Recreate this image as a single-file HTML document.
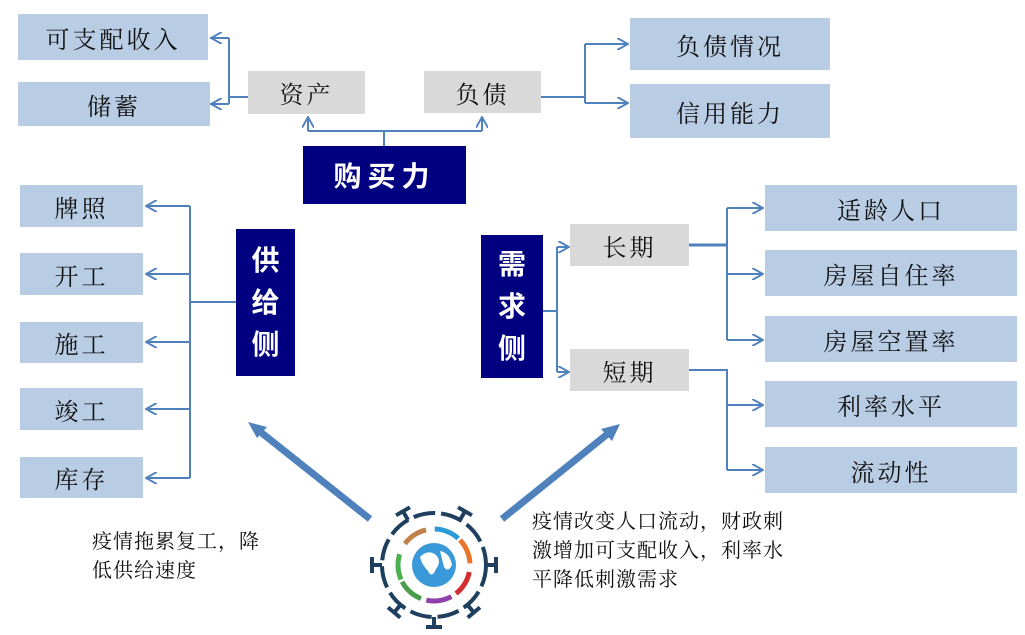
<!DOCTYPE html>
<html><head><meta charset="utf-8"><style>
body{margin:0;width:1025px;height:635px;background:#fff;position:relative;overflow:hidden;font-family:"Liberation Serif","Noto Serif CJK SC",serif}
.b{position:absolute;background:#b8cce4;display:flex;align-items:center;justify-content:center;font-size:24px;color:#111;letter-spacing:3px}
.g{position:absolute;background:#d9d9d9;display:flex;align-items:center;justify-content:center;font-size:24px;color:#111;letter-spacing:3px}
.d{position:absolute;background:#000080;color:#fff;font-weight:bold;display:flex;align-items:center;justify-content:center;font-size:28px;font-family:"Liberation Sans","Noto Sans CJK SC",sans-serif}
.t{position:absolute;font-size:20px;line-height:29px;color:#111;letter-spacing:1px}
</style></head><body>
<div class="b" style="left:18px;top:14px;width:190px;height:46px">可支配收入</div>
<div class="b" style="left:18px;top:82px;width:192px;height:44px">储蓄</div>
<div class="g" style="left:248px;top:71px;width:117px;height:43px">资产</div>
<div class="g" style="left:424px;top:71px;width:117px;height:42px">负债</div>
<div class="d" style="left:303px;top:146px;width:163px;height:58px;letter-spacing:6px">购买力</div>
<div class="b" style="left:630px;top:18px;width:200px;height:52px">负债情况</div>
<div class="b" style="left:630px;top:84px;width:200px;height:54px">信用能力</div>

<div class="b" style="left:20px;top:185px;width:123px;height:42px">牌照</div>
<div class="b" style="left:20px;top:253px;width:123px;height:42px">开工</div>
<div class="b" style="left:20px;top:322px;width:123px;height:41px">施工</div>
<div class="b" style="left:20px;top:388px;width:123px;height:42px">竣工</div>
<div class="b" style="left:20px;top:457px;width:123px;height:41px">库存</div>
<div class="d" style="left:236px;top:229px;width:59px;height:147px;flex-direction:column;line-height:42px">供<br>给<br>侧</div>
<div class="d" style="left:481px;top:235px;width:62px;height:143px;flex-direction:column;line-height:42px">需<br>求<br>侧</div>
<div class="g" style="left:570px;top:224px;width:119px;height:42px">长期</div>
<div class="g" style="left:570px;top:349px;width:119px;height:42px">短期</div>
<div class="b" style="left:765px;top:185px;width:252px;height:46px">适龄人口</div>
<div class="b" style="left:765px;top:250px;width:252px;height:46px">房屋自住率</div>
<div class="b" style="left:765px;top:316px;width:252px;height:46px">房屋空置率</div>
<div class="b" style="left:765px;top:381px;width:252px;height:46px">利率水平</div>
<div class="b" style="left:765px;top:447px;width:252px;height:46px">流动性</div>

<svg width="1025" height="635" style="position:absolute;left:0;top:0" fill="none" stroke="#4f81bd" stroke-width="2">
<defs><marker id="a" viewBox="0 0 10 10" refX="9" refY="5" markerWidth="12" markerHeight="12" markerUnits="userSpaceOnUse" orient="auto"><path d="M0,0 L9,5 L0,10" fill="none" stroke="#4f81bd" stroke-width="1.6"/></marker></defs>
<path d="M248,97 H229 M229,38 V104 M229,38 H210 M229,104 H210" />
<path d="M229,38 H211" marker-end="url(#a)"/><path d="M229,104 H211" marker-end="url(#a)"/>
<path d="M384,146 V131 M308,131 H482"/>
<path d="M308,131 V117" marker-end="url(#a)"/><path d="M482,131 V117" marker-end="url(#a)"/>
<path d="M541,97 H585 M585,44 V103"/>
<path d="M585,44 H628" marker-end="url(#a)"/><path d="M585,103 H628" marker-end="url(#a)"/>
<path d="M236,302 H190 M190,206 V478"/>
<path d="M190,206 H146" marker-end="url(#a)"/><path d="M190,274 H146" marker-end="url(#a)"/><path d="M190,342 H146" marker-end="url(#a)"/><path d="M190,409 H146" marker-end="url(#a)"/><path d="M190,478 H146" marker-end="url(#a)"/>
<path d="M543,311 H557 M557,247 V372"/>
<path d="M557,247 H569" marker-end="url(#a)"/><path d="M557,372 H569" marker-end="url(#a)"/>
<path d="M689,245 H727" stroke-width="3"/><path d="M727,208 V340"/>
<path d="M727,208 H763" marker-end="url(#a)"/><path d="M727,274 H763" marker-end="url(#a)"/><path d="M727,340 H763" marker-end="url(#a)"/>
<path d="M689,370 H727 V470"/>
<path d="M727,405 H763" marker-end="url(#a)"/><path d="M727,470 H763" marker-end="url(#a)"/>
<path d="M370,519 L258,430" stroke-width="7"/><polygon points="248,422 267,427 257,438" fill="#4f81bd" stroke="none"/>
<path d="M502,519 L610,432" stroke-width="7"/><polygon points="620,424 612,441 601,429" fill="#4f81bd" stroke="none"/>
<g transform="translate(434,565)">
<circle r="52" stroke="#1f3f5f" stroke-width="4" stroke-dasharray="22 6"/>
<g stroke="#1f3f5f" stroke-width="4">
<path d="M0,-52 V-62 M-8,-62 H8" transform="rotate(-30)"/><path d="M0,-52 V-62 M-8,-62 H8" transform="rotate(30)"/>
<path d="M0,-52 V-62 M-8,-62 H8" transform="rotate(-90)"/><path d="M0,-52 V-62 M-8,-62 H8" transform="rotate(90)"/>
<path d="M0,-52 V-62 M-8,-62 H8" transform="rotate(-140)"/><path d="M0,-52 V-62 M-8,-62 H8" transform="rotate(140)"/>
<path d="M0,-52 V-62 M-8,-62 H8" transform="rotate(180)"/></g>
<circle r="36" stroke="#c0824a" stroke-width="5" stroke-dasharray="14 200" transform="rotate(-125)"/>
<circle r="36" stroke="#2a9bd8" stroke-width="5" stroke-dasharray="14 200" transform="rotate(-70)"/>
<circle r="36" stroke="#e8752b" stroke-width="5" stroke-dasharray="14 200" transform="rotate(-25)"/>
<circle r="36" stroke="#d32f2f" stroke-width="5" stroke-dasharray="14 200" transform="rotate(30)"/>
<circle r="36" stroke="#8e3fa8" stroke-width="5" stroke-dasharray="14 200" transform="rotate(80)"/>
<circle r="36" stroke="#4a9d4a" stroke-width="5" stroke-dasharray="14 200" transform="rotate(130)"/>
<circle r="36" stroke="#4caf50" stroke-width="5" stroke-dasharray="14 200" transform="rotate(175)"/>
<circle r="22" fill="#3a9ad9" stroke="none"/>
<path d="M-14,-8 Q-6,-16 2,-10 Q8,-4 2,4 Q-2,14 -6,6 Q-12,0 -14,-8Z M6,-14 Q16,-12 18,0 Q14,8 10,2 Q8,-6 6,-14Z" fill="#fff" stroke="none"/>
</g>
</svg>
<div class="t" style="left:92px;top:528px;width:200px">疫情拖累复工，降<br>低供给速度</div>
<div class="t" style="left:532px;top:508px;width:290px">疫情改变人口流动，财政刺<br>激增加可支配收入，利率水<br>平降低刺激需求</div>
</body></html>
